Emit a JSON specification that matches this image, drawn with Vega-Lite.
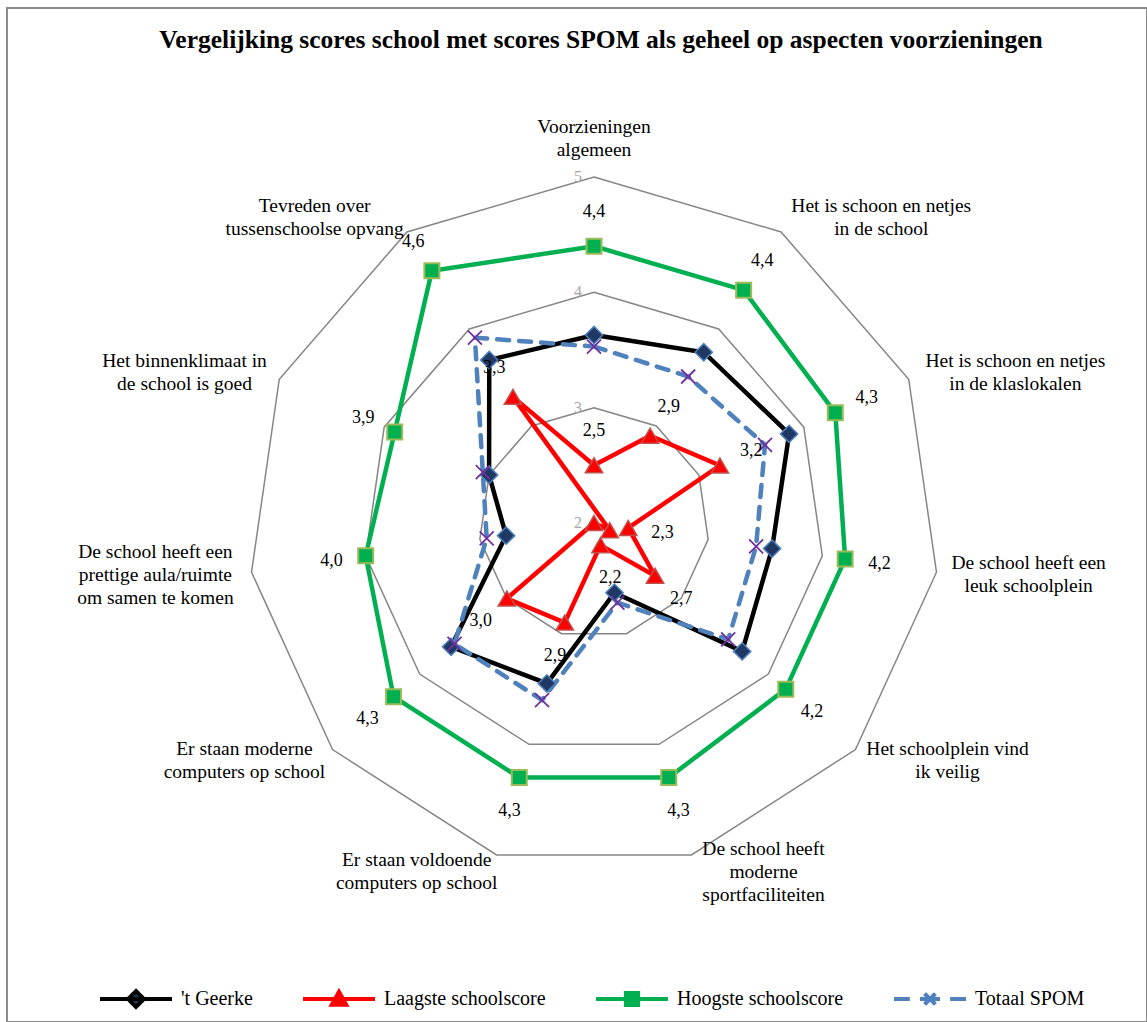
{
  "$schema": "https://vega.github.io/schema/vega-lite/v6.json",
  "width": 1140,
  "height": 1014,
  "autosize": "none",
  "padding": {"left": 7, "top": 8, "right": 0, "bottom": 0},
  "background": "white",
  "title": {
    "text": "Vergelijking scores school met scores SPOM als geheel op aspecten voorzieningen",
    "font": "Liberation Serif",
    "fontSize": 25.5,
    "fontWeight": "bold",
    "color": "#000000",
    "anchor": "middle",
    "frame": "group",
    "baseline": "alphabetic",
    "offset": 0,
    "dy": 65,
    "dx": 24
  },
  "config": {
    "view": {"stroke": "#8c8c8c", "strokeWidth": 2},
    "text": {"font": "Liberation Serif", "lineBreak": "\n"}
  },
  "datasets": {
    "cats": [
      {"idx": 0, "cat": "Voorzieningen\nalgemeen"},
      {"idx": 1, "cat": "Het is schoon en netjes\nin de school"},
      {"idx": 2, "cat": "Het is schoon en netjes\nin de klaslokalen"},
      {"idx": 3, "cat": "De school heeft een\nleuk schoolplein"},
      {"idx": 4, "cat": "Het schoolplein vind\nik veilig"},
      {"idx": 5, "cat": "De school heeft\nmoderne\nsportfaciliteiten"},
      {"idx": 6, "cat": "Er staan voldoende\ncomputers op school"},
      {"idx": 7, "cat": "Er staan moderne\ncomputers op school"},
      {"idx": 8, "cat": "De school heeft een\nprettige aula/ruimte\nom samen te komen"},
      {"idx": 9, "cat": "Het binnenklimaat in\nde school is goed"},
      {"idx": 10, "cat": "Tevreden over\ntussenschoolse opvang"}
    ],
    "scores": [
      {"series": "'t Geerke", "idx": 0, "value": 3.63},
      {"series": "'t Geerke", "idx": 1, "value": 3.76},
      {"series": "'t Geerke", "idx": 2, "value": 3.86},
      {"series": "'t Geerke", "idx": 3, "value": 3.56},
      {"series": "'t Geerke", "idx": 4, "value": 3.7},
      {"series": "'t Geerke", "idx": 5, "value": 2.63},
      {"series": "'t Geerke", "idx": 6, "value": 3.45},
      {"series": "'t Geerke", "idx": 7, "value": 3.64},
      {"series": "'t Geerke", "idx": 8, "value": 2.77},
      {"series": "'t Geerke", "idx": 9, "value": 3.0},
      {"series": "'t Geerke", "idx": 10, "value": 3.68},
      {"series": "Laagste schoolscore", "idx": 0, "value": 2.5},
      {"series": "Laagste schoolscore", "idx": 1, "value": 2.9},
      {"series": "Laagste schoolscore", "idx": 2, "value": 3.2},
      {"series": "Laagste schoolscore", "idx": 3, "value": 2.3},
      {"series": "Laagste schoolscore", "idx": 4, "value": 2.7},
      {"series": "Laagste schoolscore", "idx": 5, "value": 2.2},
      {"series": "Laagste schoolscore", "idx": 6, "value": 2.9},
      {"series": "Laagste schoolscore", "idx": 7, "value": 3.0},
      {"series": "Laagste schoolscore", "idx": 8, "value": 2.0},
      {"series": "Laagste schoolscore", "idx": 9, "value": 1.85},
      {"series": "Laagste schoolscore", "idx": 10, "value": 3.3},
      {"series": "Hoogste schoolscore", "idx": 0, "value": 4.4},
      {"series": "Hoogste schoolscore", "idx": 1, "value": 4.4},
      {"series": "Hoogste schoolscore", "idx": 2, "value": 4.3},
      {"series": "Hoogste schoolscore", "idx": 3, "value": 4.2},
      {"series": "Hoogste schoolscore", "idx": 4, "value": 4.2},
      {"series": "Hoogste schoolscore", "idx": 5, "value": 4.3},
      {"series": "Hoogste schoolscore", "idx": 6, "value": 4.3},
      {"series": "Hoogste schoolscore", "idx": 7, "value": 4.3},
      {"series": "Hoogste schoolscore", "idx": 8, "value": 4.0},
      {"series": "Hoogste schoolscore", "idx": 9, "value": 3.9},
      {"series": "Hoogste schoolscore", "idx": 10, "value": 4.6},
      {"series": "Totaal SPOM", "idx": 0, "value": 3.53},
      {"series": "Totaal SPOM", "idx": 1, "value": 3.51},
      {"series": "Totaal SPOM", "idx": 2, "value": 3.63},
      {"series": "Totaal SPOM", "idx": 3, "value": 3.42},
      {"series": "Totaal SPOM", "idx": 4, "value": 3.54},
      {"series": "Totaal SPOM", "idx": 5, "value": 2.72},
      {"series": "Totaal SPOM", "idx": 6, "value": 3.6},
      {"series": "Totaal SPOM", "idx": 7, "value": 3.6},
      {"series": "Totaal SPOM", "idx": 8, "value": 2.94},
      {"series": "Totaal SPOM", "idx": 9, "value": 3.06},
      {"series": "Totaal SPOM", "idx": 10, "value": 3.91}
    ]
  },
  "encoding": {
    "x": {"field": "x", "type": "quantitative", "scale": {"domain": [-5.0897, 4.7949], "nice": false, "zero": false}, "axis": null},
    "y": {"field": "y", "type": "quantitative", "scale": {"domain": [-4.3267, 4.4654], "nice": false, "zero": false}, "axis": null}
  },
  "layer": [
    {
      "data": {"name": "cats"},
      "transform": [
        {"calculate": "datum.idx * 2 * PI / 11", "as": "a"},
        {"calculate": "3 * sin(datum.a)", "as": "xe"},
        {"calculate": "3 * cos(datum.a)", "as": "ye"}
      ],
      "mark": {"type": "rule", "color": "#bfbfbf", "strokeWidth": 1.5},
      "encoding": {
        "x": {"datum": 0, "type": "quantitative"},
        "y": {"datum": 0, "type": "quantitative"},
        "x2": {"field": "xe"},
        "y2": {"field": "ye"}
      }
    },
    {
      "data": {"name": "cats"},
      "transform": [
        {"calculate": "datum.idx * 2 * PI / 11", "as": "a"},
        {"calculate": "1", "as": "r1"},
        {"calculate": "2", "as": "r2"},
        {"calculate": "3", "as": "r3"},
        {"fold": ["r1", "r2", "r3"], "as": ["ring", "rv"]},
        {"calculate": "datum.rv * sin(datum.a)", "as": "x"},
        {"calculate": "datum.rv * cos(datum.a)", "as": "y"}
      ],
      "mark": {"type": "line", "interpolate": "linear-closed", "color": "#868686", "strokeWidth": 1.5},
      "encoding": {
        "detail": {"field": "ring"},
        "order": {"field": "idx", "type": "quantitative"}
      }
    },
    {
      "data": {"values": [{"lvl": 2}, {"lvl": 3}, {"lvl": 4}, {"lvl": 5}]},
      "transform": [
        {"calculate": "0", "as": "x"},
        {"calculate": "datum.lvl - 2", "as": "y"}
      ],
      "mark": {"type": "text", "align": "right", "baseline": "middle", "dx": -12, "fontSize": 16, "color": "#a6a6a6"},
      "encoding": {"text": {"field": "lvl", "type": "quantitative"}}
    },
    {
      "data": {"name": "scores"},
      "transform": [
        {"filter": {"field": "series", "equal": "'t Geerke"}},
        {"calculate": "datum.idx * 2 * PI / 11", "as": "a"},
        {"calculate": "(datum.value - 2) * sin(datum.a)", "as": "x"},
        {"calculate": "(datum.value - 2) * cos(datum.a)", "as": "y"}
      ],
      "mark": {"type": "line", "interpolate": "linear-closed", "color": "#000000", "strokeWidth": 4.5},
      "encoding": {"order": {"field": "idx", "type": "quantitative"}}
    },
    {
      "data": {"name": "scores"},
      "transform": [
        {"filter": {"field": "series", "equal": "Laagste schoolscore"}},
        {"calculate": "datum.idx * 2 * PI / 11", "as": "a"},
        {"calculate": "(datum.value - 2) * sin(datum.a)", "as": "x"},
        {"calculate": "(datum.value - 2) * cos(datum.a)", "as": "y"}
      ],
      "mark": {"type": "line", "interpolate": "linear-closed", "color": "#ff0000", "strokeWidth": 4.5},
      "encoding": {"order": {"field": "idx", "type": "quantitative"}}
    },
    {
      "data": {"name": "scores"},
      "transform": [
        {"filter": {"field": "series", "equal": "Hoogste schoolscore"}},
        {"calculate": "datum.idx * 2 * PI / 11", "as": "a"},
        {"calculate": "(datum.value - 2) * sin(datum.a)", "as": "x"},
        {"calculate": "(datum.value - 2) * cos(datum.a)", "as": "y"}
      ],
      "mark": {"type": "line", "interpolate": "linear-closed", "color": "#00b050", "strokeWidth": 4.5},
      "encoding": {"order": {"field": "idx", "type": "quantitative"}}
    },
    {
      "data": {"name": "scores"},
      "transform": [
        {"filter": {"field": "series", "equal": "Totaal SPOM"}},
        {"calculate": "datum.idx * 2 * PI / 11", "as": "a"},
        {"calculate": "(datum.value - 2) * sin(datum.a)", "as": "x"},
        {"calculate": "(datum.value - 2) * cos(datum.a)", "as": "y"}
      ],
      "mark": {"type": "line", "interpolate": "linear-closed", "color": "#4f81bd", "strokeWidth": 4.5, "strokeDash": [12, 10], "strokeCap": "round"},
      "encoding": {"order": {"field": "idx", "type": "quantitative"}}
    },
    {
      "data": {"name": "scores"},
      "transform": [
        {"filter": {"field": "series", "equal": "'t Geerke"}},
        {"calculate": "datum.idx * 2 * PI / 11", "as": "a"},
        {"calculate": "(datum.value - 2) * sin(datum.a)", "as": "x"},
        {"calculate": "(datum.value - 2) * cos(datum.a)", "as": "y"}
      ],
      "mark": {"type": "point", "shape": "diamond", "size": 300, "filled": true, "fill": "#1f3864", "stroke": "#4f81bd", "strokeWidth": 1.5, "opacity": 1}
    },
    {
      "data": {"name": "scores"},
      "transform": [
        {"filter": {"field": "series", "equal": "Laagste schoolscore"}},
        {"calculate": "datum.idx * 2 * PI / 11", "as": "a"},
        {"calculate": "(datum.value - 2) * sin(datum.a)", "as": "x"},
        {"calculate": "(datum.value - 2) * cos(datum.a)", "as": "y"}
      ],
      "mark": {"type": "point", "shape": "triangle-up", "size": 300, "filled": true, "fill": "#ff0000", "stroke": "#c0504d", "strokeWidth": 1.5, "opacity": 1}
    },
    {
      "data": {"name": "scores"},
      "transform": [
        {"filter": {"field": "series", "equal": "Hoogste schoolscore"}},
        {"calculate": "datum.idx * 2 * PI / 11", "as": "a"},
        {"calculate": "(datum.value - 2) * sin(datum.a)", "as": "x"},
        {"calculate": "(datum.value - 2) * cos(datum.a)", "as": "y"}
      ],
      "mark": {"type": "point", "shape": "square", "size": 225, "filled": true, "fill": "#00b050", "stroke": "#9bbb59", "strokeWidth": 2, "opacity": 1}
    },
    {
      "data": {"name": "scores"},
      "transform": [
        {"filter": {"field": "series", "equal": "Totaal SPOM"}},
        {"calculate": "datum.idx * 2 * PI / 11", "as": "a"},
        {"calculate": "(datum.value - 2) * sin(datum.a)", "as": "x"},
        {"calculate": "(datum.value - 2) * cos(datum.a)", "as": "y"}
      ],
      "mark": {"type": "point", "shape": "M-1,-1L1,1M-1,1L1,-1", "size": 196, "filled": false, "stroke": "#7030a0", "strokeWidth": 1.8, "opacity": 1}
    },
    {
      "data": {"name": "scores"},
      "transform": [
        {"filter": "(datum.series === 'Hoogste schoolscore') || (datum.series === 'Laagste schoolscore' && datum.idx !== 8 && datum.idx !== 9)"},
        {"calculate": "datum.idx * 2 * PI / 11", "as": "a"},
        {"calculate": "(datum.value - 2 + 0.3) * sin(datum.a)", "as": "x"},
        {"calculate": "(datum.value - 2 + 0.3) * cos(datum.a)", "as": "y"},
        {"calculate": "replace(format(datum.value, '.1f'), '.', ',')", "as": "lbl"}
      ],
      "mark": {"type": "text", "align": "center", "baseline": "middle", "fontSize": 18, "color": "#000000"},
      "encoding": {"text": {"field": "lbl"}}
    },
    {
      "data": {"name": "cats"},
      "transform": [
        {"filter": "datum.idx === 0"},
        {"calculate": "datum.idx * 2 * PI / 11", "as": "a"},
        {"calculate": "length(split(datum.cat, '\\n'))", "as": "nl"},
        {"calculate": "3.15 * sin(datum.a)", "as": "x"},
        {"calculate": "3.15 * cos(datum.a) + (datum.nl - 1) * 23 / 115.33", "as": "y"}
      ],
      "mark": {"type": "text", "align": "center", "baseline": "bottom", "fontSize": 19.5, "lineHeight": 23, "color": "#000000"},
      "encoding": {"text": {"field": "cat"}}
    },
    {
      "data": {"name": "cats"},
      "transform": [
        {"filter": "datum.idx >= 1"},
        {"calculate": "datum.idx * 2 * PI / 11", "as": "a"},
        {"calculate": "split(datum.cat, '\\n')", "as": "lines"},
        {"calculate": "length(datum.lines)", "as": "nl"},
        {"calculate": "max(length(datum.lines[0]), datum.nl > 1 ? length(datum.lines[1]) : 0, datum.nl > 2 ? length(datum.lines[2]) : 0)", "as": "maxlen"},
        {"calculate": "sin(datum.a) > 0.1 ? 1 : (sin(datum.a) < -0.1 ? -1 : 0)", "as": "side"},
        {"calculate": "3.15 * sin(datum.a) + datum.side * datum.maxlen * 7.9 / 2 / 115.33", "as": "x"},
        {"calculate": "3.15 * cos(datum.a) + (datum.nl - 1) * 11.5 / 115.33", "as": "y"}
      ],
      "mark": {"type": "text", "align": "center", "baseline": "middle", "fontSize": 19.5, "lineHeight": 23, "color": "#000000"},
      "encoding": {"text": {"field": "cat"}}
    },
    {
      "data": {"name": "scores"},
      "transform": [
        {"filter": "false"},
        {"calculate": "0", "as": "x"},
        {"calculate": "0", "as": "y"}
      ],
      "mark": {"type": "point", "filled": true, "strokeWidth": 4.5, "opacity": 1},
      "encoding": {
        "shape": {
          "field": "series", "type": "nominal",
          "scale": {
            "domain": ["'t Geerke", "Laagste schoolscore", "Hoogste schoolscore", "Totaal SPOM"],
            "range": [
              "M-1,0L1,0M0,-0.22L0.22,0L0,0.22L-0.22,0Z",
              "M-1,0L1,0M0,-0.2L0.2,0.16L-0.2,0.16Z",
              "M-1,0L1,0M-0.17,-0.17L0.17,-0.17L0.17,0.17L-0.17,0.17Z",
              "M-1,0L-0.56,0M-0.28,0L0.28,0M0.56,0L1,0M0,0L0.15,0.15M0,0L-0.15,-0.15M0,0L-0.15,0.15M0,0L0.15,-0.15"
            ]
          },
          "legend": {"title": null, "orient": "none", "legendX": 91, "legendY": 953, "direction": "horizontal", "columns": 4, "gridAlign": "none", "columnPadding": 42, "symbolSize": 5184, "symbolStrokeWidth": 4, "labelFont": "Liberation Serif", "labelFontSize": 20, "labelColor": "#000000", "labelOffset": 7, "padding": 0, "labelLimit": 400}
        },
        "fill": {
          "field": "series", "type": "nominal",
          "scale": {
            "domain": ["'t Geerke", "Laagste schoolscore", "Hoogste schoolscore", "Totaal SPOM"],
            "range": ["#1f3864", "#ff0000", "#00b050", "#7030a0"]
          },
          "legend": {"title": null, "orient": "none", "legendX": 91, "legendY": 953, "direction": "horizontal", "columns": 4, "gridAlign": "none", "columnPadding": 42, "symbolSize": 5184, "symbolStrokeWidth": 4, "labelFont": "Liberation Serif", "labelFontSize": 20, "labelColor": "#000000", "labelOffset": 7, "padding": 0, "labelLimit": 400}
        },
        "stroke": {
          "field": "series", "type": "nominal",
          "scale": {
            "domain": ["'t Geerke", "Laagste schoolscore", "Hoogste schoolscore", "Totaal SPOM"],
            "range": ["#000000", "#ff0000", "#00b050", "#4f81bd"]
          },
          "legend": {"title": null, "orient": "none", "legendX": 91, "legendY": 953, "direction": "horizontal", "columns": 4, "gridAlign": "none", "columnPadding": 42, "symbolSize": 5184, "symbolStrokeWidth": 4, "labelFont": "Liberation Serif", "labelFontSize": 20, "labelColor": "#000000", "labelOffset": 7, "padding": 0, "labelLimit": 400}
        },
        "strokeDash": {
          "field": "series", "type": "nominal",
          "scale": {
            "domain": ["'t Geerke", "Laagste schoolscore", "Hoogste schoolscore", "Totaal SPOM"],
            "range": [[1, 0], [1, 0], [1, 0], [1, 0]]
          },
          "legend": {"title": null, "orient": "none", "legendX": 91, "legendY": 953, "direction": "horizontal", "columns": 4, "gridAlign": "none", "columnPadding": 42, "symbolSize": 5184, "symbolStrokeWidth": 4, "labelFont": "Liberation Serif", "labelFontSize": 20, "labelColor": "#000000", "labelOffset": 7, "padding": 0, "labelLimit": 400}
        }
      }
    }
  ]
}
